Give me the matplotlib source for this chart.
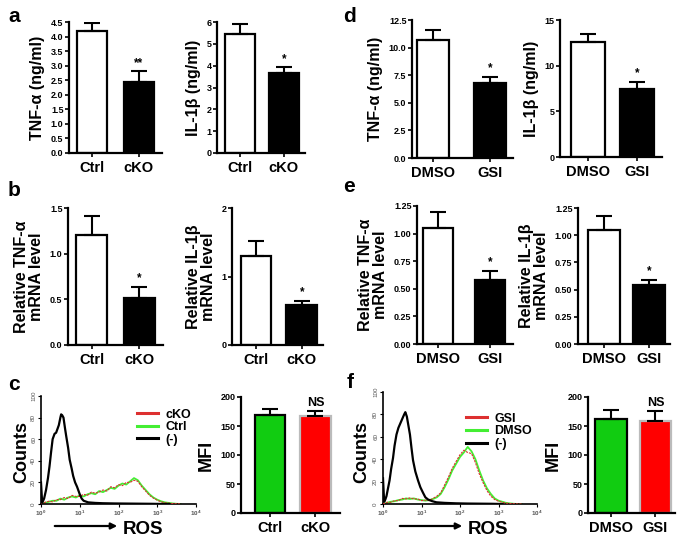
import numpy as np
import matplotlib
matplotlib.use("Agg")
import matplotlib.pyplot as plt
from matplotlib.lines import Line2D

plt.rcParams['font.family'] = ['Liberation Sans', 'DejaVu Sans']
plt.rcParams['font.weight'] = 'bold'
plt.rcParams['axes.labelweight'] = 'bold'
plt.rcParams['mathtext.fontset'] = 'custom'
plt.rcParams['mathtext.rm'] = 'Liberation Sans'

W, H = 685, 537

# ---- bar data ----
ko_groups = ['Ctrl', 'cKO']
gsi_groups = ['DMSO', 'GSI']

a_tnf = [4.2, 2.45]
a_tnf_err = [0.28, 0.35]
a_il1b = [5.45, 3.65]
a_il1b_err = [0.47, 0.27]

b_tnf = [1.2, 0.52]
b_tnf_err = [0.21, 0.12]
b_il1b = [1.3, 0.59]
b_il1b_err = [0.22, 0.05]

d_tnf = [10.7, 6.8]
d_tnf_err = [0.85, 0.5]
d_il1b = [12.6, 7.5]
d_il1b_err = [0.9, 0.75]

e_tnf = [1.05, 0.58]
e_tnf_err = [0.15, 0.08]
e_il1b = [1.05, 0.54]
e_il1b_err = [0.13, 0.05]

c_mfi = [169, 168]
c_mfi_err = [11, 8]
f_mfi = [162, 158]
f_mfi_err = [16, 18]

# ---- flow histograms (decades of ROS intensity, counts) ----
ros_bins = [0.0, 0.1, 0.2, 0.3, 0.4, 0.5, 0.6, 0.7, 0.8, 0.9, 1.0, 1.1, 1.2,
            1.3, 1.4, 1.5, 1.6, 1.7, 1.8, 1.9, 2.0, 2.1, 2.2, 2.3, 2.4, 2.5,
            2.6, 2.7, 2.8, 2.9, 3.0, 3.1, 3.2, 3.3, 3.4, 3.5, 3.6]
c_ctrl = [0, 1, 2, 3, 3, 5, 4, 6, 7, 6, 8, 7, 9, 10, 9, 12, 11, 13, 15, 14,
          17, 19, 18, 21, 24, 22, 17, 13, 9, 6, 4, 2.5, 1.5, 1, 0.5, 0.2, 0]
c_cko = [0, 1.5, 2.5, 2, 4, 4, 6, 5, 8, 7, 7, 9, 8, 11, 10, 11, 13, 12, 16, 15,
         18, 17, 20, 20, 22, 21, 16, 12, 8, 5.5, 3.5, 2, 1.2, 0.8, 0.4, 0.2, 0]
f_dmso = [0, 1, 2, 2.5, 3.5, 4, 5, 4.5, 5, 4, 3.5, 3, 3.5, 4.5, 6, 9, 15, 22,
          30, 36, 42, 46, 51, 47, 40, 30, 21, 14, 9, 5, 3, 2, 1, 0.5, 0.2, 0, 0]
f_gsi = [0, 1.5, 1.5, 3, 3, 5, 4.5, 5.5, 4.5, 4.5, 3, 3.5, 3, 5, 7, 10, 17, 24,
         32, 38, 44, 48, 46, 45, 37, 27, 19, 12, 7, 4, 2.5, 1.5, 0.8, 0.4, 0.2, 0, 0]

c_neg_log = [0, 0.03, 0.08, 0.13, 0.18, 0.22, 0.26, 0.30, 0.35, 0.39, 0.43, 0.46,
             0.50, 0.52, 0.55, 0.58, 0.62, 0.65, 0.70, 0.74, 0.79, 0.83, 0.88,
             0.93, 1.0, 1.05, 1.1, 1.22, 1.4, 1.6, 1.9, 2.2, 2.5, 2.8, 3.0, 3.3]
c_neg = [20, 1, 5, 13, 24, 35, 48, 60, 65, 66, 70, 73, 80, 83, 82, 80, 70, 63,
         52, 41, 33, 26, 20, 16, 9, 5, 3, 1.5, 1, 0.7, 0.5, 0.4, 0.3, 0.2, 0.1, 0]
f_neg_log = [0, 0.03, 0.06, 0.09, 0.13, 0.17, 0.21, 0.26, 0.30, 0.35, 0.40, 0.45,
             0.50, 0.55, 0.58, 0.62, 0.66, 0.70, 0.74, 0.78, 0.84, 0.91, 0.97,
             1.04, 1.10, 1.17, 1.28, 1.39, 1.6, 1.9, 2.2, 2.5, 2.8, 3.1]
f_neg = [23, 2, 4, 7, 14, 21, 31, 41, 52, 62, 68, 72, 76, 80, 82, 78, 70, 62,
         50, 39, 29, 21, 15, 10, 6, 4, 2.5, 1.5, 1, 0.6, 0.4, 0.3, 0.2, 0]

fig = plt.figure(figsize=(W / 100, H / 100), dpi=100)


def rect(l, r, t, b):
    return [l / W, 1 - b / H, (r - l) / W, (b - t) / H]


def bar_panel(box, groups, vals, errs, ymax, ystep, fmt, ylabel, mark,
              xlim, width, colors=('white', 'black'), edges=('black', 'black'),
              ylab_size=11.5):
    ax = fig.add_axes(box)
    x = np.arange(len(vals))
    ax.bar(x, vals, width, color=colors, edgecolor=edges, linewidth=1.6, zorder=2)
    ax.errorbar(x, vals, yerr=[[0] * len(errs), errs], fmt='none', ecolor='black',
                elinewidth=1.5, capsize=6, capthick=1.5, zorder=3)
    ax.set_xlim(*xlim)
    ax.set_ylim(0, ymax)
    ticks = np.arange(0, ymax + ystep / 2, ystep)
    ax.set_yticks(ticks)
    ax.set_yticklabels([fmt.format(t) for t in ticks], fontsize=6.5)
    ax.set_xticks(x)
    ax.set_xticklabels(groups, fontsize=10.5)
    ax.tick_params(axis='y', length=3, width=1.2, pad=1)
    ax.tick_params(axis='x', length=3, width=1.2, pad=3)
    for s in ['top', 'right']:
        ax.spines[s].set_visible(False)
    for s in ['left', 'bottom']:
        ax.spines[s].set_linewidth(1.6)
    ax.set_ylabel(ylabel, fontsize=ylab_size, labelpad=4, linespacing=1.0)
    top = vals[1] + errs[1]
    ax.text(1, top + ymax * 0.02, mark, ha='center', va='bottom',
            fontsize=9 if mark == 'NS' else 8.5)
    return ax


def flow_panel(box, pos_curves, neg_log, neg_vals, labels, ctr_label_x, ros_x,
               leg_anchor):
    ax = fig.add_axes(box)
    xb = [10 ** v for v in ros_bins]
    ax.plot(xb, pos_curves[1], color='#44ee33', lw=1.3, zorder=2)
    ax.plot(xb, pos_curves[0], color='#dd3030', lw=0.8, ls=(0, (2, 1)), zorder=3)
    ax.plot([10 ** v for v in neg_log], neg_vals, color='black', lw=1.6, zorder=4)
    ax.set_xscale('log')
    ax.set_xlim(1, 1e4)
    ax.set_ylim(0, 100)
    ax.set_yticks([0, 20, 40, 60, 80, 100])
    ax.set_yticklabels(['0', '20', '40', '60', '80', '100'], fontsize=4.5,
                       rotation=90, va='center', color='#555555', fontweight='normal')
    ax.set_xticks([1, 10, 100, 1000, 10000])
    ax.set_xticklabels(['$10^0$', '$10^1$', '$10^2$', '$10^3$', '$10^4$'],
                       fontsize=4.5, color='#555555')
    ax.tick_params(axis='both', length=2.5, width=0.8, pad=1)
    ax.tick_params(axis='x', which='minor', length=1.5, width=0.6)
    for s in ['top', 'right']:
        ax.spines[s].set_visible(False)
    for s in ['left', 'bottom']:
        ax.spines[s].set_linewidth(1.2)
    handles = [Line2D([], [], color='#dd3030', lw=2.2),
               Line2D([], [], color='#44ee33', lw=2.2),
               Line2D([], [], color='black', lw=2.2)]
    ax.legend(handles, labels, loc='upper right', bbox_to_anchor=leg_anchor,
              frameon=False, fontsize=9, handlelength=1.7, handletextpad=0.6,
              labelspacing=0.05, borderaxespad=0)
    fig.text(ctr_label_x / W, 1 - 452 / H, 'Counts', rotation=90, ha='center',
             va='center', fontsize=13)
    fig.add_artist(matplotlib.patches.FancyArrowPatch(
        (ros_x / W, 1 - 526 / H), ((ros_x + 68) / W, 1 - 526 / H),
        transform=fig.transFigure, arrowstyle='-|>', mutation_scale=9,
        lw=1.6, color='black'))
    fig.text((ros_x + 71) / W, 1 - 529 / H, 'ROS', ha='left', va='center',
             fontsize=13.5)
    return ax


# row 1
bar_panel(rect(69, 162, 22, 153), ko_groups, a_tnf, a_tnf_err, 4.5, 0.5, '{:.1f}',
          'TNF-α (ng/ml)', '**', (-0.5, 1.5), 0.64)
bar_panel(rect(217, 305, 22, 153), ko_groups, a_il1b, a_il1b_err, 6, 1, '{:.0f}',
          'IL-1β (ng/ml)', '*', (-0.52, 1.48), 0.68)
bar_panel(rect(412, 513, 20, 158), gsi_groups, d_tnf, d_tnf_err, 12.5, 2.5, '{:.1f}',
          'TNF-α (ng/ml)', '*', (-0.37, 1.4), 0.56)
bar_panel(rect(560, 662, 20, 157), gsi_groups, d_il1b, d_il1b_err, 15, 5, '{:.0f}',
          'IL-1β (ng/ml)', '*', (-0.56, 1.5), 0.68)

# row 2
bar_panel(rect(68, 163, 208, 345), ko_groups, b_tnf, b_tnf_err, 1.5, 0.5, '{:.1f}',
          'Relative TNF-α\nmRNA level', '*', (-0.5, 1.5), 0.66)
bar_panel(rect(232, 323, 208, 345), ko_groups, b_il1b, b_il1b_err, 2, 1, '{:.0f}',
          'Relative IL-1β\nmRNA level', '*', (-0.52, 1.46), 0.67)
bar_panel(rect(417, 513, 206, 344), gsi_groups, e_tnf, e_tnf_err, 1.25, 0.25, '{:.2f}',
          'Relative TNF-α\nmRNA level', '*', (-0.4, 1.44), 0.57)
bar_panel(rect(578, 670, 208, 344), gsi_groups, e_il1b, e_il1b_err, 1.25, 0.25, '{:.2f}',
          'Relative IL-1β\nmRNA level', '*', (-0.58, 1.47), 0.7)

# row 3
flow_panel(rect(41, 196, 396, 504), (c_cko, c_ctrl), c_neg_log, c_neg,
           ['cKO', 'Ctrl', '(-)'], 22, 52, (1.0, 0.93))
bar_panel(rect(241, 340, 397, 513), ko_groups, c_mfi, c_mfi_err, 200, 50, '{:.0f}',
          'MFI', 'NS', (-0.64, 1.54), 0.67, colors=('#11cc11', '#ff0000'),
          edges=('black', '#bbbbbb'), ylab_size=13)
flow_panel(rect(383, 537, 392, 504), (f_gsi, f_dmso), f_neg_log, f_neg,
           ['GSI', 'DMSO', '(-)'], 362, 397, (1.0, 0.86))
bar_panel(rect(588, 675, 397, 513), gsi_groups, f_mfi, f_mfi_err, 200, 50, '{:.0f}',
          'MFI', 'NS', (-0.52, 1.44), 0.71, colors=('#11cc11', '#ff0000'),
          edges=('black', '#bbbbbb'), ylab_size=13)

for letter, lx, ly in [('a', 14, 17), ('b', 14, 190), ('c', 14, 385),
                       ('d', 349, 17), ('e', 349, 187), ('f', 350, 383)]:
    fig.text(lx / W, 1 - ly / H, letter, ha='center', va='center', fontsize=15)

fig.savefig('out.png', dpi=100)
